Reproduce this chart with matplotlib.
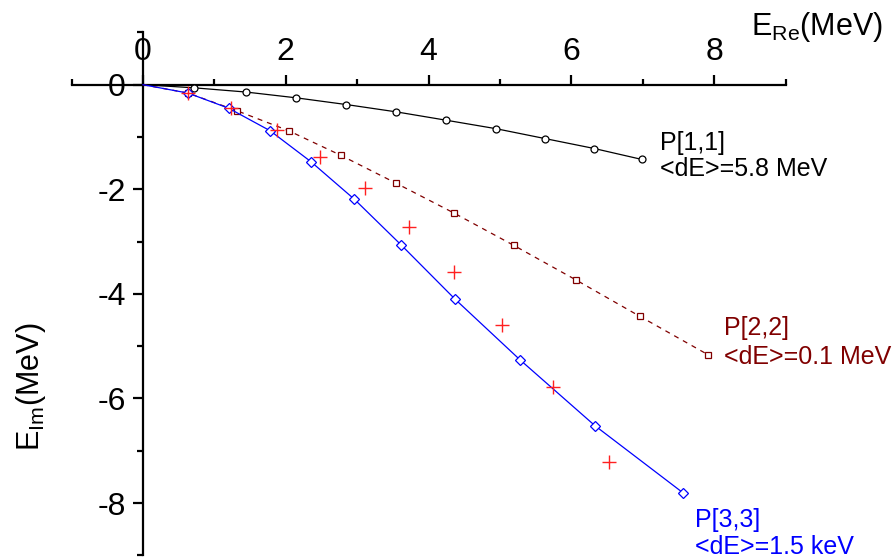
import matplotlib
matplotlib.use("Agg")
import matplotlib.pyplot as plt
import numpy as np

plt.rcParams['font.family'] = ['Liberation Sans', 'DejaVu Sans']
plt.rcParams['mathtext.fontset'] = 'custom'
plt.rcParams['mathtext.rm'] = 'Liberation Sans'
plt.rcParams['mathtext.it'] = 'Liberation Sans:italic'

# ---- data (E_Re, E_Im in MeV) ----
p11_re = [0.0, 0.72, 1.44, 2.14, 2.85, 3.55, 4.25, 4.94, 5.63, 6.32, 6.99]
p11_im = [0.0, -0.06, -0.14, -0.25, -0.38, -0.52, -0.68, -0.84, -1.03, -1.22, -1.43]

p22_re = [0.0, 0.63, 1.32, 2.04, 2.77, 3.54, 4.35, 5.19, 6.06, 6.96, 7.91]
p22_im = [0.0, -0.16, -0.50, -0.88, -1.35, -1.88, -2.45, -3.07, -3.73, -4.43, -5.16]

p33_re = [0.0, 0.63, 1.20, 1.78, 2.35, 2.96, 3.62, 4.37, 5.28, 6.33, 7.56]
p33_im = [0.0, -0.16, -0.45, -0.88, -1.47, -2.19, -3.07, -4.10, -5.26, -6.52, -7.80]

exact_re = [0.63, 1.23, 1.87, 2.48, 3.11, 3.73, 4.36, 5.03, 5.74, 6.53]
exact_im = [-0.16, -0.44, -0.87, -1.38, -1.98, -2.72, -3.58, -4.59, -5.78, -7.22]

x_ticks = [0, 2, 4, 6, 8]
y_ticks = [0, -2, -4, -6, -8]

labels = [("P[1,1]", "<dE>=5.8 MeV"), ("P[2,2]", "<dE>=0.1 MeV"), ("P[3,3]", "<dE>=1.5 keV")]

# ---- figure ----
W, H = 894, 559
fig = plt.figure(figsize=(W / 100, H / 100), dpi=100)
ax = fig.add_axes([0, 0, 1, 1])
ax.patch.set_alpha(0)

x0px, xs = 143.0, 71.4
y0px, ys = 84.7, 52.3
ax.set_xlim(-x0px / xs, (W - x0px) / xs)
ax.set_ylim(-(H - y0px) / ys, y0px / ys)

ax.plot(p11_re, p11_im, color='black', lw=0.9, marker='o', ms=5, mfc='white',
        mec='black', mew=0.9, markevery=slice(1, None), zorder=3)
ax.plot(p22_re, p22_im, color='#800000', lw=0.9, ls=(0, (4, 4)), marker='s', ms=4.5,
        mfc='white', mec='#800000', mew=0.9, markevery=slice(1, None), zorder=3)
ax.plot(p33_re, p33_im, color='#0000ff', lw=0.9, marker='D', ms=4.8, mfc='white',
        mec='#0000ff', mew=0.9, markevery=slice(1, None), zorder=3)
ax.plot(exact_re, exact_im, ls='none', marker='+', ms=10, mec='#ff2020', mew=1.0, zorder=4)

# axes through origin
for s in ['bottom', 'right']:
    ax.spines[s].set_visible(False)
ax.spines['top'].set_position(('data', 0))
ax.spines['left'].set_position(('data', 0))
ax.spines['top'].set_bounds(-1, 9)
ax.spines['left'].set_bounds(-9, 1)
for s in ['top', 'left']:
    ax.spines[s].set_linewidth(1.6)
    ax.spines[s].set_zorder(2)

ax.xaxis.set_ticks_position('top')
ax.yaxis.set_ticks_position('left')
ax.set_xticks(x_ticks)
ax.set_xticks([-1, 1, 3, 5, 7, 9], minor=True)
ax.set_yticks(y_ticks)
ax.set_yticks([1, -1, -3, -5, -7, -9], minor=True)
ax.set_xticklabels([str(v) for v in x_ticks])
ax.set_yticklabels([str(v) for v in y_ticks])
ax.tick_params(which='major', direction='out', length=7.5, width=1.6, labelsize=23)
ax.tick_params(which='minor', direction='out', length=4.5, width=1.6)
ax.tick_params(axis='x', pad=5)
ax.tick_params(axis='y', pad=5)

# axis titles
fig.text(751 / W, 1 - 35 / H, r"E$_{\mathrm{Re}}$(MeV)", fontsize=22, ha='left', va='baseline')
fig.text(31 / W, 1 - 387 / H, r"E$_{\mathrm{Im}}$(MeV)", fontsize=22, rotation=90,
         ha='center', va='center')

# annotations
cols = ['black', '#800000', '#0000ff']
pos = [(660, 150, 176), (724, 335, 364), (695, 527, 554)]
for (l1, l2), c, (xp, b1, b2) in zip(labels, cols, pos):
    fig.text(xp / W, 1 - b1 / H, l1, color=c, fontsize=18, ha='left', va='baseline')
    fig.text(xp / W, 1 - b2 / H, l2, color=c, fontsize=18, ha='left', va='baseline')

fig.savefig("out.png", dpi=100)
